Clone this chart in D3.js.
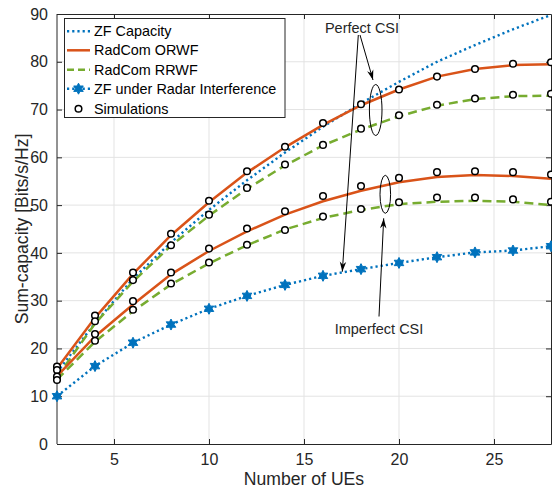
<!DOCTYPE html>
<html><head><meta charset="utf-8">
<script src="https://cdn.jsdelivr.net/npm/d3@7"></script>
<style>body{margin:0;background:#fff;} svg{display:block;font-family:"Liberation Sans",Arial,Helvetica,sans-serif;}</style>
</head><body>
<svg id="c" width="552" height="490"></svg>
<script>
const users = [2,4,6,8,10,12,14,16,18,20,22,24,26,28];
const zfCapacity   = [15.0,25.3,34.6,42.2,49.0,55.2,61.0,66.4,71.3,75.8,80.0,83.5,86.8,89.8];
const orwfPerfect  = [15.8,26.4,35.6,43.7,50.6,56.8,62.1,66.8,70.9,74.2,76.9,78.5,79.3,79.5];
const rrwfPerfect  = [14.0,25.2,34.0,41.5,47.8,53.4,58.3,62.5,65.8,68.6,70.8,72.2,72.8,72.9];
const orwfImperfect= [14.2,22.5,29.2,35.5,40.4,44.5,48.0,50.8,53.0,54.8,55.9,56.3,56.1,55.5];
const rrwfImperfect= [13.5,21.4,27.8,33.4,37.8,41.6,44.9,47.3,49.0,50.2,50.7,50.9,50.7,50.0];
const zfRadar      = [10.0,16.3,21.2,25.0,28.3,31.0,33.3,35.2,36.6,37.9,39.1,40.1,40.5,41.4];
const simOrwfPerfect  = [16.2,26.9,35.9,44.0,50.9,57.1,62.2,67.2,71.1,74.2,76.9,78.5,79.6,79.9];
const simRrwfPerfect  = [15.5,25.7,34.3,41.6,48.0,53.6,58.5,62.6,66.0,68.8,71.0,72.3,73.1,73.3];
const simOrwfImperfect= [14.1,23.0,29.9,35.9,40.9,45.1,48.7,51.9,54.0,55.7,56.9,57.1,56.9,56.4];
const simRrwfImperfect= [13.4,21.6,28.1,33.6,38.0,41.7,44.8,47.6,49.2,50.6,51.6,51.6,51.2,50.7];
const xTicks = [5,10,15,20,25];
const yTicks = [0,10,20,30,40,50,60,70,80,90];
const legendLabels = ["ZF Capacity","RadCom ORWF","RadCom RRWF","ZF under Radar Interference","Simulations"];

const BLUE="#0072BD", ORANGE="#D95319", GREEN="#77AC30", AX="#262626";
const L=57,R=551,T=14,B=444;
const svg=d3.select("#c");
const x=d3.scaleLinear().domain([2,28]).range([L,R]);
const y=d3.scaleLinear().domain([0,90]).range([B,T]);

// grid
svg.append("g").selectAll("line").data(xTicks).join("line")
  .attr("x1",d=>x(d)).attr("x2",d=>x(d)).attr("y1",T).attr("y2",B)
  .attr("stroke","#e3e3e3").attr("stroke-width",1);
svg.append("g").selectAll("line").data(yTicks.slice(1,-1)).join("line")
  .attr("x1",L).attr("x2",R).attr("y1",d=>y(d)).attr("y2",d=>y(d))
  .attr("stroke","#e3e3e3").attr("stroke-width",1);

// axes
const fs=16;
const xa=svg.append("g").attr("transform",`translate(0,${B})`)
  .call(d3.axisBottom(x).tickValues(xTicks).tickSizeInner(-5).tickSizeOuter(0).tickPadding(10));
const ya=svg.append("g").attr("transform",`translate(${L},0)`)
  .call(d3.axisLeft(y).tickValues(yTicks).tickSizeInner(-5).tickSizeOuter(0).tickPadding(9));
const xt=svg.append("g").attr("transform",`translate(0,${T})`)
  .call(d3.axisTop(x).tickValues(xTicks).tickSizeInner(-5).tickSizeOuter(0).tickFormat(""));
const yr=svg.append("g").attr("transform",`translate(${R},0)`)
  .call(d3.axisRight(y).tickValues(yTicks).tickSizeInner(-5).tickSizeOuter(0).tickFormat(""));
[xa,ya,xt,yr].forEach(g=>{
  g.selectAll("path").attr("stroke",AX).attr("stroke-width",1);
  g.selectAll("line").attr("stroke",AX).attr("stroke-width",1);
  g.selectAll("text").attr("fill",AX).style("font-size",fs+"px").style("font-family","Liberation Sans, Arial, sans-serif");
});
ya.select(".domain").attr("d",`M0,${B}V${T}`);

// lines
const line=(vals)=>d3.line().x((d,i)=>x(users[i])).y(d=>y(d))(vals);
svg.append("path").attr("d",line(zfCapacity)).attr("fill","none").attr("stroke",BLUE).attr("stroke-width",2.4).attr("stroke-dasharray","2.2,3");
svg.append("path").attr("d",line(zfRadar)).attr("fill","none").attr("stroke",BLUE).attr("stroke-width",2.4).attr("stroke-dasharray","2.2,3");
[rrwfPerfect,rrwfImperfect].forEach(v=>svg.append("path").attr("d",line(v)).attr("fill","none").attr("stroke",GREEN).attr("stroke-width",2.5).attr("stroke-dasharray","9,5"));
[orwfPerfect,orwfImperfect].forEach(v=>svg.append("path").attr("d",line(v)).attr("fill","none").attr("stroke",ORANGE).attr("stroke-width",2.5));

// star markers
function hexagram(cx,cy,r){
  let p=[];
  for(let k=0;k<12;k++){const a=-Math.PI/2+k*Math.PI/6;const rr=k%2?r*0.55:r;p.push([cx+rr*Math.cos(a),cy+rr*Math.sin(a)]);}
  return "M"+p.map(q=>q.join(",")).join("L")+"Z";
}
svg.append("g").selectAll("path").data(zfRadar).join("path")
  .attr("d",(d,i)=>hexagram(x(users[i]),y(d),5.5)).attr("fill",BLUE).attr("stroke",BLUE).attr("stroke-width",1);

// simulation circles
[simOrwfPerfect,simRrwfPerfect,simOrwfImperfect,simRrwfImperfect].forEach(v=>{
  svg.append("g").selectAll("circle").data(v).join("circle")
    .attr("cx",(d,i)=>x(users[i])).attr("cy",d=>y(d)).attr("r",3.3)
    .attr("fill","#fff").attr("stroke","#000").attr("stroke-width",1.5);
});

// axis labels
svg.append("text").attr("x",(L+R)/2).attr("y",485).attr("text-anchor","middle")
  .style("font-size","17.6px").attr("fill",AX).text("Number of UEs");
svg.append("text").attr("transform",`translate(28,${(T+B)/2}) rotate(-90)`).attr("text-anchor","middle")
  .style("font-size","17.6px").attr("fill",AX).text("Sum-capacity [Bits/s/Hz]");

// annotations
const ann=svg.append("g");
ann.append("ellipse").attr("cx",375.7).attr("cy",110).attr("rx",6.3).attr("ry",25.5).attr("fill","none").attr("stroke","#000").attr("stroke-width",1);
ann.append("ellipse").attr("cx",385.3).attr("cy",194.3).attr("rx",5.3).attr("ry",19).attr("fill","none").attr("stroke","#000").attr("stroke-width",1);
function arrow(x1,y1,x2,y2){
  ann.append("line").attr("x1",x1).attr("y1",y1).attr("x2",x2).attr("y2",y2).attr("stroke","#000").attr("stroke-width",1);
  const a=Math.atan2(y2-y1,x2-x1), len=10, w=3.2;
  const bx=x2-len*Math.cos(a), by=y2-len*Math.sin(a);
  const mx=x2-0.7*len*Math.cos(a), my=y2-0.7*len*Math.sin(a);
  const px=-Math.sin(a), py=Math.cos(a);
  ann.append("path").attr("d",`M${x2},${y2}L${bx+w*px},${by+w*py}L${mx},${my}L${bx-w*px},${by-w*py}Z`).attr("fill","#000");
}
arrow(360,35,373,80);
arrow(358.3,35,342.3,271.7);
arrow(379,316.5,383.7,218.3);
ann.append("text").attr("x",362).attr("y",32.5).attr("text-anchor","middle").style("font-size","14.5px").attr("fill",AX).text("Perfect CSI");
ann.append("text").attr("x",379).attr("y",333.5).attr("text-anchor","middle").style("font-size","14.5px").attr("fill",AX).text("Imperfect CSI");

// legend
const lg=svg.append("g");
lg.append("rect").attr("x",64.5).attr("y",18.5).attr("width",220.5).attr("height",99).attr("fill","#fff").attr("stroke",AX).attr("stroke-width",1);
const ly=[31.3,50.3,69.7,88.7,108.7];
const lx1=67,lx2=90;
legendLabels.forEach((t,i)=>{
  const yy=ly[i];
  if(i===0||i===3) lg.append("line").attr("x1",lx1).attr("x2",lx2).attr("y1",yy).attr("y2",yy).attr("stroke",BLUE).attr("stroke-width",2.4).attr("stroke-dasharray","2.2,3");
  if(i===1) lg.append("line").attr("x1",lx1).attr("x2",lx2).attr("y1",yy).attr("y2",yy).attr("stroke",ORANGE).attr("stroke-width",2.5);
  if(i===2) lg.append("line").attr("x1",lx1).attr("x2",lx2).attr("y1",yy).attr("y2",yy).attr("stroke",GREEN).attr("stroke-width",2.5).attr("stroke-dasharray","7,4");
  if(i===3) lg.append("path").attr("d",hexagram((lx1+lx2)/2,yy,5.5)).attr("fill",BLUE).attr("stroke",BLUE);
  if(i===4) lg.append("circle").attr("cx",(lx1+lx2)/2).attr("cy",yy).attr("r",3.3).attr("fill","#fff").attr("stroke","#000").attr("stroke-width",1.5);
  lg.append("text").attr("x",94).attr("y",yy+5).style("font-size","14.4px").attr("fill","#000").text(t);
});
</script>
</body></html>
